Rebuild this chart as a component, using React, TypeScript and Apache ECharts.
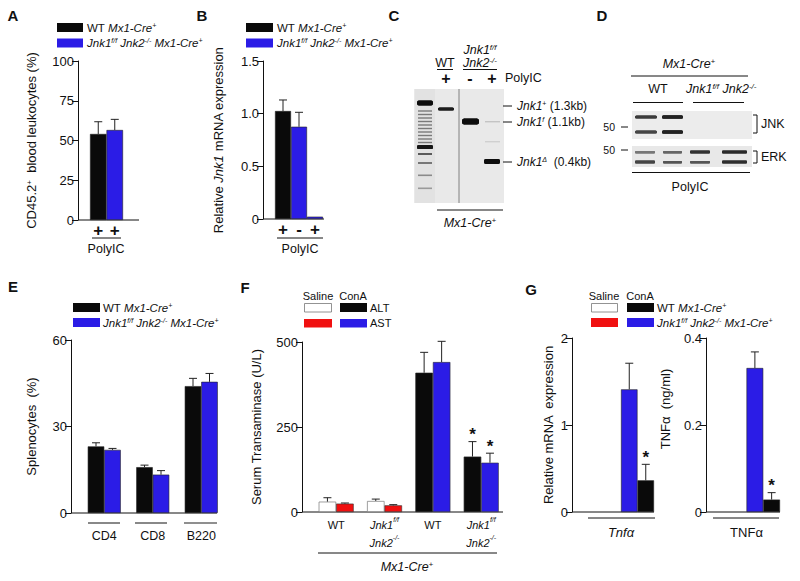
import React, { useEffect, useRef } from 'react';
import * as echarts from 'echarts';

const FONT = '"Liberation Sans", Arial, Helvetica, sans-serif';
const INK = '#111111';
const BLACK = '#0a0a0a';
const BLUE = '#2b1ce6';
const RED = '#f01010';
const WHITE = '#ffffff';

// ---------- Panel A : CD45.2+ blood leukocytes (%) ----------
const aLabels = ['+', '+'];
const aValues = [54.1, 56.6];
const aErrors = [7.7, 6.7];
const aColors = [BLACK, BLUE];

// ---------- Panel B : Relative Jnk1 mRNA expression ----------
const bLabels = ['+', '-', '+'];
const bValues = [1.025, 0.876, 0.022];
const bErrors = [0.105, 0.137, 0];
const bColors = [BLACK, BLUE, BLUE];

// ---------- Panel E : Splenocytes (%) ----------
const eCategories = ['CD4', 'CD8', 'B220'];
const eWT = [23.1, 15.9, 44.0];
const eWTErr = [1.25, 0.7, 2.7];
const eKO = [21.9, 13.3, 45.5];
const eKOErr = [0.5, 1.4, 2.9];

// ---------- Panel F : Serum transaminase (U/L) ----------
const fCategories = [
  'WT',
  '{i|Jnk1}{isup|f/f}\n{i|Jnk2}{isup|-/-}',
  'WT',
  '{i|Jnk1}{isup|f/f}\n{i|Jnk2}{isup|-/-}',
];
const fTreatment = ['Saline', 'Saline', 'ConA', 'ConA'];
const fALT = [30.5, 32.4, 409.6, 163];
const fALTErr = [11.5, 5.6, 60, 44];
const fAST = [24.6, 19.6, 441, 145];
const fASTErr = [1.9, 2.0, 61, 28];
const fALTSig = [0, 0, 0, 1];
const fASTSig = [0, 0, 0, 1];

// ---------- Panel G : Tnfa mRNA and TNFa protein ----------
const gMrnaCategory = ['Tnf\u03b1'];
const gMrnaSalineWT = [0];
const gMrnaSalineKO = [0];
const gMrnaConAKO = [1.41];
const gMrnaConAKOErr = [0.3];
const gMrnaConAWT = [0.364];
const gMrnaConAWTErr = [0.184];
const gMrnaSig = [1];

const gProtCategory = ['TNF\u03b1'];
const gProtSalineWT = [0];
const gProtSalineKO = [0];
const gProtConAKO = [0.331];
const gProtConAKOErr = [0.037];
const gProtConAWT = [0.0285];
const gProtConAWTErr = [0.016];
const gProtSig = [1];

const treatColorALT: Record<string, string> = { Saline: WHITE, ConA: BLACK };
const treatColorAST: Record<string, string> = { Saline: RED, ConA: BLUE };

const TICK = 13;
const TITLE = 13;
const LEG = 11.5;

function richStyles(size: number) {
  const s = Math.round(size * 0.62);
  return {
    i: { fontStyle: 'italic', fontSize: size, fontFamily: FONT, color: INK, fill: INK },
    sup: { fontSize: s, fontFamily: FONT, verticalAlign: 'top', color: INK, fill: INK },
    isup: { fontStyle: 'italic', fontSize: s, fontFamily: FONT, verticalAlign: 'top', color: INK, fill: INK },
  };
}

function yAxis(grid: number, min: number, max: number, interval: number, offset: number, name: string, nameGap: number, fmt?: (v: number) => string, namePad?: number[]) {
  return {
    type: 'value',
    gridIndex: grid,
    min,
    max,
    interval,
    offset,
    name,
    nameLocation: 'middle',
    nameGap,
    nameRotate: 90,
    nameTextStyle: { fontSize: TITLE, fontFamily: FONT, color: INK, rich: richStyles(TITLE), padding: namePad || 0 },
    axisLine: { show: true, lineStyle: { color: INK, width: 1 } },
    axisTick: { show: true, length: 6, inside: false, lineStyle: { color: INK, width: 1 } },
    axisLabel: { fontSize: TICK, fontFamily: FONT, color: INK, margin: 4, formatter: fmt },
    splitLine: { show: false },
  };
}

function xAxis(grid: number, data: string[], label: any) {
  return {
    type: 'category',
    gridIndex: grid,
    data,
    axisLine: { show: false },
    axisTick: { show: false },
    splitLine: { show: false },
    axisLabel: { interval: 0, fontFamily: FONT, color: INK, ...label },
  };
}

function errorSeries(axis: number, items: number[][], barW: number) {
  return {
    type: 'custom',
    xAxisIndex: axis,
    yAxisIndex: axis,
    silent: true,
    z: 5,
    encode: { x: 0, y: 1 },
    data: items,
    renderItem: (_params: any, api: any) => {
      const cat = api.value(0);
      const v = api.value(1);
      const e = api.value(2);
      const off = api.value(3);
      const sig = api.value(4);
      const p0 = api.coord([cat, v]);
      const p1 = api.coord([cat, v + e]);
      const x = p0[0] + off * barW;
      const children: any[] = [];
      if (e > 0) {
        children.push({ type: 'line', shape: { x1: x, y1: p0[1], x2: x, y2: p1[1] }, style: { stroke: '#222', lineWidth: 1 } });
        children.push({ type: 'line', shape: { x1: x - 4, y1: p1[1], x2: x + 4, y2: p1[1] }, style: { stroke: '#222', lineWidth: 1 } });
      }
      if (sig) {
        children.push({
          type: 'text',
          x,
          y: p1[1] - 7,
          style: { text: '*', fontSize: 17, fontWeight: 'bold', fontFamily: FONT, fill: INK, align: 'center', verticalAlign: 'middle' },
        });
      }
      return { type: 'group', children };
    },
  };
}

const barBorder = { borderColor: '#222', borderWidth: 0.6 };

function buildGraphics() {
  const g: any[] = [];
  const txt = (x: number, y: number, text: string, o: any = {}) => {
    const size = o.size ?? 12;
    g.push({
      type: 'text',
      x,
      y,
      silent: true,
      style: {
        text,
        fontSize: size,
        fontFamily: FONT,
        fontWeight: o.weight ?? 'normal',
        fontStyle: o.italic ? 'italic' : 'normal',
        fill: o.fill ?? INK,
        align: o.align ?? 'center',
        verticalAlign: 'middle',
        textAlign: o.align ?? 'center',
        textVerticalAlign: 'middle',
        rich: richStyles(size),
      },
    });
  };
  const ln = (x1: number, y1: number, x2: number, y2: number, stroke = INK, w = 1) =>
    g.push({ type: 'line', silent: true, shape: { x1, y1, x2, y2 }, style: { stroke, lineWidth: w } });
  const rc = (x: number, y: number, w: number, h: number, fill: string, stroke?: string, r = 0, blur = 0) =>
    g.push({
      type: 'rect',
      silent: true,
      shape: { x, y, width: w, height: h, r },
      style: { fill, stroke: stroke ?? 'none', lineWidth: stroke ? 0.8 : 0, shadowBlur: blur, shadowColor: blur ? fill : 'transparent' },
    });

  const legendWT = 'WT {i|Mx1-Cre}{isup|+}';
  const legendKO = '{i|Jnk1}{isup|f/f} {i|Jnk2}{isup|-/-} {i|Mx1-Cre}{isup|+}';

  // panel letters
  const L = (x: number, y: number, s: string) => txt(x, y, s, { size: 15, weight: 'bold' });
  L(13, 15, 'A');
  L(202, 15, 'B');
  L(394, 15, 'C');
  L(602, 15, 'D');
  L(13, 286, 'E');
  L(245, 287, 'F');
  L(531, 289, 'G');

  // ---- A ----
  rc(57, 23, 26, 9, BLACK);
  rc(57, 38.5, 26, 9, BLUE);
  txt(87, 27.5, legendWT, { size: LEG, align: 'left' });
  txt(87, 43, legendKO, { size: LEG, align: 'left', italic: true });
  ln(78, 220, 139, 220);
  ln(92, 238, 121, 238);
  txt(106, 249, 'PolyIC', { size: 12.5 });

  // ---- B ----
  rc(246, 23, 27, 9, BLACK);
  rc(246, 38.5, 27, 9, BLUE);
  txt(277, 27.5, legendWT, { size: LEG, align: 'left' });
  txt(277, 43, legendKO, { size: LEG, align: 'left', italic: true });
  ln(263, 219, 324, 219);
  ln(277, 238, 323, 238);
  txt(300, 249, 'PolyIC', { size: 12.5 });

  // ---- C (agarose gel) ----
  txt(445, 63, 'WT', { size: 12.5 });
  ln(437, 69.5, 453, 69.5);
  txt(480, 50, '{i|Jnk1}{isup|f/f}', { italic: true, size: 12.5 });
  txt(480, 63, '{i|Jnk2}{isup|-/-}', { italic: true, size: 12.5 });
  ln(463, 69.5, 497, 69.5);
  txt(446, 78, '+', { size: 16, weight: 'bold' });
  txt(470, 78, '-', { size: 16, weight: 'bold' });
  txt(492, 78, '+', { size: 16, weight: 'bold' });
  txt(505, 78, 'PolyIC', { align: 'left', size: 12.5 });
  rc(414, 89, 90, 114, '#e9e9e9');
  rc(415, 89, 20, 114, '#e2e2e2');
  ln(459, 89, 459, 203, '#666', 0.8);
  // ladder
  rc(417, 100.5, 16, 5, '#111', undefined, 2, 1.5);
  [111, 114.5, 118, 121.5, 125, 128.5, 132, 135.5, 139, 142.5].forEach((y) => rc(418, y - 0.7, 14, 1.4, '#7a7a7a'));
  rc(417, 145, 16, 4, '#151515', undefined, 1.5, 1.5);
  rc(418, 153, 14, 2, '#5a5a5a');
  rc(418, 162, 14, 2, '#777');
  rc(418, 174.5, 14, 1.6, '#8a8a8a');
  rc(418, 187.5, 14, 1.6, '#9a9a9a');
  // sample lanes
  rc(438, 107.5, 16, 3, '#1a1a1a', undefined, 1.5, 1);
  rc(462, 118.5, 17, 6, '#0d0d0d', undefined, 2.5, 1.5);
  rc(485, 121, 15, 1.4, '#c4c4c4');
  rc(485, 141, 15, 1.4, '#d0d0d0');
  rc(484, 159, 16, 5, '#0d0d0d', undefined, 2, 1.5);
  // size markers
  ln(503, 106, 512, 106);
  ln(503, 122, 512, 122);
  ln(503, 162, 512, 162);
  txt(517, 106, '{i|Jnk1}{sup|+} (1.3kb)', { align: 'left' });
  txt(517, 122, '{i|Jnk1}{isup|f} (1.1kb)', { align: 'left' });
  txt(517, 162, '{i|Jnk1}{isup|\u0394}  (0.4kb)', { align: 'left' });
  ln(437, 210, 503, 210);
  txt(470, 223, '{i|Mx1-Cre}{isup|+}', { italic: true, size: 12.5 });

  // ---- D (immunoblot) ----
  txt(689, 64, '{i|Mx1-Cre}{isup|+}', { italic: true, size: 12.5 });
  ln(631, 76, 748, 76);
  txt(658, 89, 'WT', { size: 12.5 });
  txt(686, 89, '{i|Jnk1}{isup|f/f} {i|Jnk2}{isup|-/-}', { italic: true, align: 'left', size: 12.5 });
  ln(633, 102.5, 683, 102.5);
  ln(693, 102.5, 744, 102.5);
  rc(632, 111, 120, 28, '#ececec');
  rc(635, 115.5, 22, 3, '#3a3a3a', undefined, 1.5, 1);
  rc(662, 115.3, 21, 3.5, '#222', undefined, 1.5, 1);
  rc(635, 130.5, 22, 3, '#444', undefined, 1.5, 1);
  rc(662, 130.3, 21, 3.5, '#222', undefined, 1.5, 1);
  txt(615, 127, '50', { size: 10.5, align: 'right' });
  ln(621, 127, 628, 127);
  rc(632, 146, 120, 21, '#e8e8e8');
  rc(635, 151, 20, 2.5, '#777', undefined, 1, 1);
  rc(663, 151, 19, 2.5, '#666', undefined, 1, 1);
  rc(690, 150.5, 20, 3, '#333', undefined, 1, 1);
  rc(722, 150.5, 25, 3, '#2a2a2a', undefined, 1, 1);
  rc(635, 160.5, 20, 3, '#444', undefined, 1, 1);
  rc(663, 161, 19, 2.5, '#555', undefined, 1, 1);
  rc(690, 161, 20, 2.5, '#555', undefined, 1, 1);
  rc(722, 160.5, 25, 3, '#2f2f2f', undefined, 1, 1);
  txt(615, 150, '50', { size: 10.5, align: 'right' });
  ln(621, 150, 628, 150);
  ln(757, 115, 757, 133);
  ln(753, 115, 757, 115);
  ln(753, 133, 757, 133);
  txt(761, 124, 'JNK', { align: 'left', size: 12.5 });
  ln(757, 151, 757, 163);
  ln(753, 151, 757, 151);
  ln(753, 163, 757, 163);
  txt(761, 157, 'ERK', { align: 'left', size: 12.5 });
  ln(632, 172.5, 750, 172.5);
  txt(690, 187, 'PolyIC', { size: 12.5 });

  // ---- E ----
  rc(73, 303, 27, 9, BLACK);
  rc(73, 318, 27, 9, BLUE);
  txt(103, 307.5, legendWT, { size: LEG, align: 'left' });
  txt(103, 322.5, legendKO, { size: LEG, align: 'left', italic: true });
  ln(71, 513, 217, 513);
  ln(88, 523, 120, 523, '#6a6a6a', 1.6);
  ln(135, 523, 167, 523, '#6a6a6a', 1.6);
  ln(184, 523, 217, 523, '#6a6a6a', 1.6);

  // ---- F ----
  txt(318, 296, 'Saline', { size: 11 });
  txt(353, 296, 'ConA', { size: 11 });
  rc(304.5, 303.5, 27, 8.5, WHITE, '#777');
  rc(340, 303, 27, 9, BLACK);
  rc(304, 319, 28, 8.5, RED);
  rc(340, 319, 27, 8.5, BLUE);
  txt(370, 307.5, 'ALT', { size: 11, align: 'left' });
  txt(370, 323, 'AST', { size: 11, align: 'left' });
  ln(302, 512, 503, 512);
  ln(318, 553, 497, 553);
  txt(407, 567, '{i|Mx1-Cre}{isup|+}', { italic: true, size: 12.5 });

  // ---- G ----
  txt(604, 296, 'Saline', { size: 11 });
  txt(640, 296, 'ConA', { size: 11 });
  rc(591.5, 303.5, 26, 8.5, WHITE, '#777');
  rc(627, 303, 27, 9, BLACK);
  rc(591, 318, 27, 9, RED);
  rc(627, 318, 27, 9, BLUE);
  txt(657, 307.5, legendWT, { size: LEG, align: 'left' });
  txt(657, 322.5, legendKO, { size: LEG, align: 'left', italic: true });
  ln(572, 512, 654, 512);
  ln(706, 512, 780, 512);
  ln(588, 518, 655, 518);
  ln(713, 518, 779, 518);
  return g;
}

function buildOption() {
  const fmt1 = (v: number) => (v === 0 ? '0' : v.toFixed(1));
  const plusLabel = { fontSize: 17, fontWeight: 'bold', margin: 2 };
  const gridBase = { containLabel: false, outerBoundsMode: 'none', show: false };

  const seriesF = [
    {
      type: 'bar', xAxisIndex: 3, yAxisIndex: 3, barWidth: 17.5, barGap: '0%',
      data: fALT.map((v, i) => ({ value: v, itemStyle: { color: treatColorALT[fTreatment[i]], borderColor: fTreatment[i] === 'Saline' ? '#777' : '#222', borderWidth: 0.7 } })),
    },
    {
      type: 'bar', xAxisIndex: 3, yAxisIndex: 3, barWidth: 17.5, barGap: '0%',
      data: fAST.map((v, i) => ({ value: v, itemStyle: { color: treatColorAST[fTreatment[i]], borderColor: '#333', borderWidth: 0.6 } })),
    },
  ];

  const gBar = (axis: number, data: number[], color: string, w: number, border = true) => ({
    type: 'bar', xAxisIndex: axis, yAxisIndex: axis, barWidth: w, barGap: '0%', data,
    itemStyle: { color, borderColor: '#222', borderWidth: border ? 0.6 : 0 },
  });

  return {
    animation: false,
    backgroundColor: '#ffffff',
    textStyle: { fontFamily: FONT },
    grid: [
      { ...gridBase, left: 90, top: 61, width: 33, height: 159 },
      { ...gridBase, left: 275, top: 61, width: 48, height: 158 },
      { ...gridBase, left: 80, top: 340, width: 145.5, height: 173 },
      { ...gridBase, left: 312, top: 342, width: 193.4, height: 170 },
      { ...gridBase, left: 588, top: 338, width: 66, height: 174 },
      { ...gridBase, left: 713, top: 338, width: 67, height: 174 },
    ],
    xAxis: [
      xAxis(0, aLabels, plusLabel),
      xAxis(1, bLabels, plusLabel),
      xAxis(2, eCategories, { fontSize: 12.5, margin: 16 }),
      xAxis(3, fCategories, { fontSize: 11, margin: 4, lineHeight: 18, rich: richStyles(11) }),
      xAxis(4, gMrnaCategory, { fontSize: 13, margin: 14, fontStyle: 'italic' }),
      xAxis(5, gProtCategory, { fontSize: 13, margin: 14 }),
    ],
    yAxis: [
      yAxis(0, 0, 100, 25, 12, 'CD45.2{sup|+}  blood leukocytes (%)', 40),
      yAxis(1, 0, 1.5, 0.5, 12, 'Relative {i|Jnk1} mRNA expression', 38, fmt1),
      yAxis(2, 0, 60, 30, 9, 'Splenocytes  (%)', 33),
      yAxis(3, 0, 500, 250, 10, 'Serum Transaminase (U/L)', 39),
      yAxis(4, 0, 2, 1, 16, 'Relative mRNA  expression', 17),
      yAxis(5, 0, 0.4, 0.2, 7, 'TNF\u03b1  (ng/ml)', 34, fmt1, [0, 0, 0, 32]),
    ],
    series: [
      {
        type: 'bar', xAxisIndex: 0, yAxisIndex: 0, barCategoryGap: '0%',
        data: aValues.map((v, i) => ({ value: v, itemStyle: { color: aColors[i], ...barBorder } })),
      },
      errorSeries(0, aValues.map((v, i) => [i, v, aErrors[i], 0, 0]), 0),
      {
        type: 'bar', xAxisIndex: 1, yAxisIndex: 1, barCategoryGap: '0%',
        data: bValues.map((v, i) => ({ value: v, itemStyle: { color: bColors[i], ...barBorder } })),
      },
      errorSeries(1, bValues.map((v, i) => [i, v, bErrors[i], 0, 0]), 0),
      { type: 'bar', xAxisIndex: 2, yAxisIndex: 2, barWidth: 16.5, barGap: '0%', data: eWT, itemStyle: { color: BLACK, ...barBorder } },
      { type: 'bar', xAxisIndex: 2, yAxisIndex: 2, barWidth: 16.5, barGap: '0%', data: eKO, itemStyle: { color: BLUE, ...barBorder } },
      errorSeries(2, eWT.map((v, i) => [i, v, eWTErr[i], -0.5, 0]), 16.5),
      errorSeries(2, eKO.map((v, i) => [i, v, eKOErr[i], 0.5, 0]), 16.5),
      ...seriesF,
      errorSeries(3, fALT.map((v, i) => [i, v, fALTErr[i], -0.5, fALTSig[i]]), 17.5),
      errorSeries(3, fAST.map((v, i) => [i, v, fASTErr[i], 0.5, fASTSig[i]]), 17.5),
      gBar(4, gMrnaSalineWT, WHITE, 16.5, false),
      gBar(4, gMrnaSalineKO, RED, 16.5, false),
      gBar(4, gMrnaConAKO, BLUE, 16.5),
      gBar(4, gMrnaConAWT, BLACK, 16.5),
      errorSeries(4, gMrnaConAKO.map((v, i) => [i, v, gMrnaConAKOErr[i], 0.5, 0]), 16.5),
      errorSeries(4, gMrnaConAWT.map((v, i) => [i, v, gMrnaConAWTErr[i], 1.5, gMrnaSig[i]]), 16.5),
      gBar(5, gProtSalineWT, WHITE, 16.75, false),
      gBar(5, gProtSalineKO, RED, 16.75, false),
      gBar(5, gProtConAKO, BLUE, 16.75),
      gBar(5, gProtConAWT, BLACK, 16.75),
      errorSeries(5, gProtConAKO.map((v, i) => [i, v, gProtConAKOErr[i], 0.5, 0]), 16.75),
      errorSeries(5, gProtConAWT.map((v, i) => [i, v, gProtConAWTErr[i], 1.5, gProtSig[i]]), 16.75),
    ],
    graphic: { elements: buildGraphics() },
  };
}

export default function App() {
  const ref = useRef<HTMLDivElement>(null);
  useEffect(() => {
    if (!ref.current) return;
    const chart = echarts.init(ref.current, undefined, { renderer: 'svg' });
    chart.setOption(buildOption() as any);
    return () => chart.dispose();
  }, []);
  return (
    <div
      ref={ref}
      style={{ position: 'fixed', left: 0, top: 0, width: 800, height: 581, background: '#ffffff' }}
    />
  );
}
